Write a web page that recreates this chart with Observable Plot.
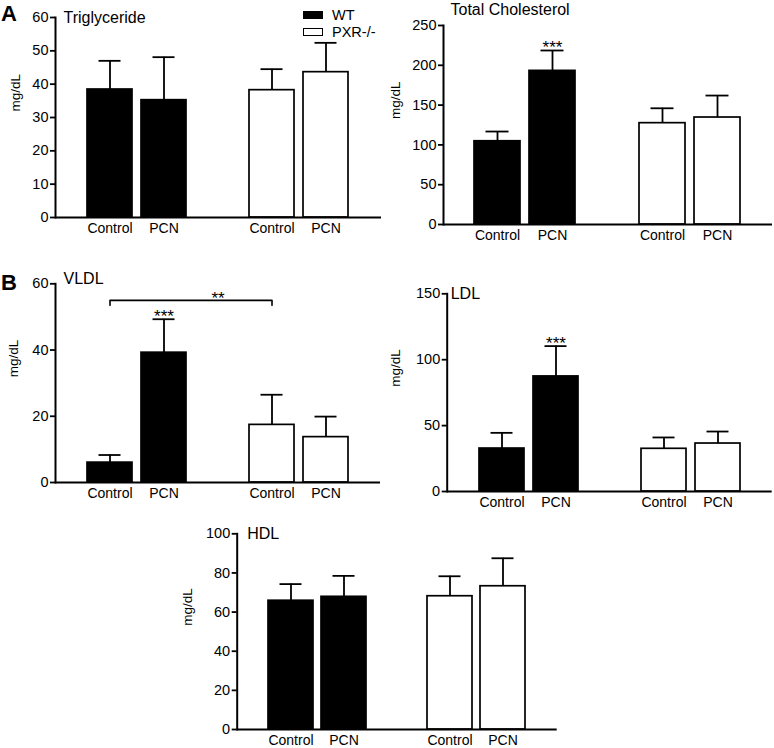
<!DOCTYPE html>
<html><head><meta charset="utf-8">
<script src="https://cdn.jsdelivr.net/npm/d3@7"></script>
<script src="https://cdn.jsdelivr.net/npm/@observablehq/plot@0.6"></script>
<style>
body{margin:0;background:#fff;font-family:'Liberation Sans',Arial,sans-serif;}
#fig{position:relative;width:774px;height:748px;overflow:hidden;background:#fff;}
.panel{position:absolute;}
.letter{position:absolute;font-weight:bold;font-size:22px;line-height:1;color:#000;}
.leg{position:absolute;left:303px;font-size:14.5px;line-height:1;color:#000;display:flex;align-items:center;}
.sw{width:20px;height:8px;box-sizing:border-box;border:1.5px solid #000;margin-right:9px;}
</style></head><body><div id="fig"></div><script>
const genotypes = ["WT", "PXR-/-"];
const treatments = ["Control", "PCN"];
const genotypeFill = ["#000000", "#ffffff"];

// means and SEM, order: WT Control, WT PCN, PXR-/- Control, PXR-/- PCN
const tgMean = [38.4, 35.2, 38.2, 43.6];
const tgSem  = [8.6, 12.9, 6.3, 8.8];
const tcMean = [104.6, 193.0, 127.3, 134.4];
const tcSem  = [12.2, 25.6, 18.7, 27.6];
const vldlMean = [6.0, 39.2, 17.4, 13.7];
const vldlSem  = [2.3, 10.1, 9.1, 6.2];
const ldlMean = [32.6, 87.3, 32.4, 36.4];
const ldlSem  = [11.9, 23.0, 8.6, 9.1];
const hdlMean = [65.8, 67.8, 68.1, 73.2];
const hdlSem  = [8.5, 10.7, 10.2, 14.3];

const tgTicks = [0, 10, 20, 30, 40, 50, 60];
const tcTicks = [0, 50, 100, 150, 200, 250];
const vldlTicks = [0, 20, 40, 60];
const ldlTicks = [0, 50, 100, 150];
const hdlTicks = [0, 20, 40, 60, 80, 100];

const tcStars = [{genotype: "WT", treatment: "PCN", label: "***"}];
const vldlStars = [{genotype: "WT", treatment: "PCN", label: "***"}];
const ldlStars = [{genotype: "WT", treatment: "PCN", label: "***"}];
const vldlBracket = {from: ["WT", "Control"], to: ["PXR-/-", "Control"], level: 55, foot: 53.5, label: "**"};

const SEP = "|";
const key = (g, t) => g + SEP + t;
const barKeys = genotypes.flatMap(g => treatments.map(t => key(g, t)));
const SPACER = "spacer";
const slots = [...barKeys.slice(0, 2), SPACER, ...barKeys.slice(2)];
const FONT = "'Liberation Sans', Arial, sans-serif";

function panel(s) {
  const data = [];
  genotypes.forEach((g, gi) => treatments.forEach((t, ti) => {
    const i = gi * treatments.length + ti;
    data.push({genotype: g, treatment: t, key: key(g, t), mean: s.mean[i], upper: s.mean[i] + s.sem[i]});
  }));
  const byKey = new Map(data.map(d => [d.key, d]));
  const marks = [
    Plot.barY(data, {x: "key", y: "mean", fill: "genotype", stroke: "#000", strokeWidth: 1.7}),
    Plot.ruleX(data, {x: "key", y1: "mean", y2: "upper", stroke: "#000", strokeWidth: 1.8}),
    Plot.tickY(data, {x: "key", y: "upper", stroke: "#000", strokeWidth: 1.8, inset: 11.5}),
    Plot.frame({anchor: "left", stroke: "#000", strokeWidth: 2}),
    Plot.ruleY([0], {stroke: "#000", strokeWidth: 2}),
    Plot.axisY({ticks: s.yTicks, tickSize: 5, tickPadding: 2, fontSize: 14.5, label: null, strokeWidth: 1.8}),
    Plot.axisX({ticks: barKeys, tickSize: 0, tickPadding: 6, fontSize: 14, label: null, tickFormat: k => k.split(SEP)[1]}),
    Plot.text([s.title], {text: d => d, frameAnchor: "top-left", dx: s.titleDx, dy: s.titleDy, textAnchor: "start", lineAnchor: "middle", fontSize: 16}),
    Plot.text(["mg/dL"], {text: d => d, frameAnchor: "left", rotate: -90, dx: s.labelDx, dy: -6, fontSize: 13.5})
  ];
  if (s.stars) {
    const st = s.stars.map(a => ({...a, key: key(a.genotype, a.treatment), y: byKey.get(key(a.genotype, a.treatment)).upper}));
    marks.push(Plot.text(st, {x: "key", y: "y", text: "label", lineAnchor: "bottom", dy: 3, fontSize: 17}));
  }
  if (s.bracket) {
    const b = s.bracket;
    const k1 = key(...b.from), k2 = key(...b.to);
    const pts = [{x: k1, y: b.foot}, {x: k1, y: b.level}, {x: k2, y: b.level}, {x: k2, y: b.foot}];
    marks.push(Plot.line(pts, {x: "x", y: "y", stroke: "#000", strokeWidth: 1.6}));
    marks.push(Plot.text([{k1, k2, y: b.level, label: b.label}], {x: d => slots[Math.round((slots.indexOf(d.k1) + slots.indexOf(d.k2)) / 2)], y: "y", text: "label", lineAnchor: "bottom", dy: 4, fontSize: 17}));
  }
  const chart = Plot.plot({
    width: s.width, height: s.height,
    marginLeft: s.ml, marginRight: s.mr, marginTop: s.mt, marginBottom: s.mb,
    x: {domain: slots, paddingInner: 0.16, paddingOuter: 0.55, axis: null},
    y: {domain: [0, s.yMax], axis: null},
    color: {domain: genotypes, range: genotypeFill},
    style: {fontFamily: FONT, fontSize: "14px", color: "#000", background: "transparent", overflow: "visible"},
    marks
  });
  chart.classList.add("panel");
  chart.style.left = s.left + "px";
  chart.style.top = s.top + "px";
  document.getElementById("fig").appendChild(chart);
}

panel({title: "Triglyceride", mean: tgMean, sem: tgSem, yMax: 60, yTicks: tgTicks,
  left: 0, top: 0, width: 390, height: 247, ml: 55, mr: 9, mt: 17, mb: 30, titleDx: 8, titleDy: 0, labelDx: -40});
panel({title: "Total Cholesterol", mean: tcMean, sem: tcSem, yMax: 250, yTicks: tcTicks, stars: tcStars,
  left: 390, top: 0, width: 384, height: 254, ml: 53, mr: 2, mt: 25, mb: 30, titleDx: 7, titleDy: -16, labelDx: -48});
panel({title: "VLDL", mean: vldlMean, sem: vldlSem, yMax: 60, yTicks: vldlTicks, stars: vldlStars, bracket: vldlBracket,
  left: 0, top: 260, width: 390, height: 252, ml: 55, mr: 10, mt: 23.3, mb: 30, titleDx: 8, titleDy: -5, labelDx: -42});
panel({title: "LDL", mean: ldlMean, sem: ldlSem, yMax: 150, yTicks: ldlTicks, stars: ldlStars,
  left: 390, top: 260, width: 384, height: 261, ml: 56.7, mr: 2.3, mt: 33.3, mb: 30, titleDx: 3.5, titleDy: 0, labelDx: -52});
panel({title: "HDL", mean: hdlMean, sem: hdlSem, yMax: 100, yTicks: hdlTicks,
  left: 160, top: 510, width: 400, height: 238, ml: 76.7, mr: 3.3, mt: 23.3, mb: 19, titleDx: 10, titleDy: 0, labelDx: -50});

const fig = document.getElementById("fig");
[["A", 1, 3], ["B", 1, 272]].forEach(([t, x, y]) => {
  const d = document.createElement("div");
  d.className = "letter"; d.textContent = t; d.style.left = x + "px"; d.style.top = y + "px";
  fig.appendChild(d);
});
genotypes.forEach((g, i) => {
  const row = document.createElement("div");
  row.className = "leg";
  row.style.top = (8 + i * 16.5) + "px";
  const sw = document.createElement("span");
  sw.className = "sw"; sw.style.background = genotypeFill[i];
  const tx = document.createElement("span"); tx.textContent = g;
  row.appendChild(sw); row.appendChild(tx);
  fig.appendChild(row);
});
</script></body></html>
